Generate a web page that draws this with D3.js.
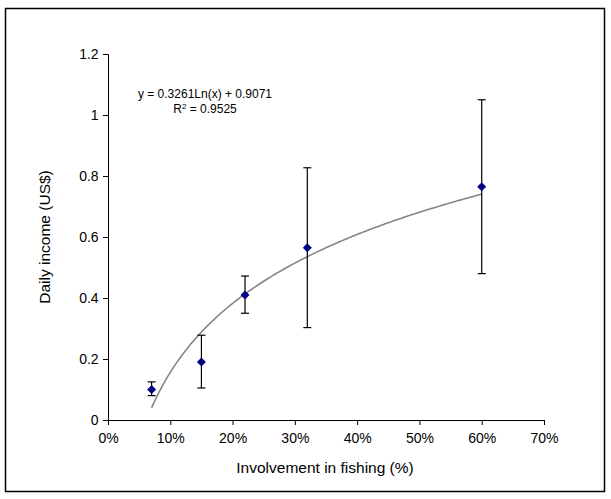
<!DOCTYPE html>
<html>
<head>
<meta charset="utf-8">
<script src="https://cdn.jsdelivr.net/npm/d3@7"></script>
<style>
  body { margin: 0; background: #fff; }
  svg { display: block; font-family: "Liberation Sans", Arial, sans-serif; }
</style>
</head>
<body>
<div id="chart"></div>
<script>
// involvement in fishing (fraction) vs daily income (US$)
const involvement = [0.07, 0.15, 0.22, 0.32, 0.60];
const income = [0.10, 0.19, 0.41, 0.565, 0.765];
const errPlus = [0.025, 0.088, 0.062, 0.262, 0.285];
const errMinus = [0.02, 0.085, 0.06, 0.262, 0.285];

const xTicks = [0, 0.1, 0.2, 0.3, 0.4, 0.5, 0.6, 0.7];
const yTicks = [0, 0.2, 0.4, 0.6, 0.8, 1, 1.2];

// logarithmic trendline, as printed on the chart
const trendCoef = [0.3261, 0.9071];
const trendLabel = ['y = 0.3261Ln(x) + 0.9071', '0.9525'];

const W = 611, H = 499;
const margin = { left: 108, right: 67, top: 54, bottom: 79 };

const svg = d3.select('#chart').append('svg').attr('width', W).attr('height', H);

svg.append('rect')
  .attr('x', 5.5).attr('y', 8.5)
  .attr('width', 599).attr('height', 483)
  .attr('fill', 'none').attr('stroke', '#000').attr('stroke-width', 1.5);

const x = d3.scaleLinear().domain([0, 0.7]).range([margin.left, W - margin.right]);
const y = d3.scaleLinear().domain([0, 1.2]).range([H - margin.bottom, margin.top]);

const xAxis = svg.append('g')
  .attr('transform', `translate(0,${y(0)})`)
  .call(d3.axisBottom(x).tickValues(xTicks).tickFormat(d3.format('.0%')).tickSizeOuter(0).tickSize(5));

const yAxis = svg.append('g')
  .attr('transform', `translate(${x(0)},0)`)
  .call(d3.axisLeft(y).tickValues(yTicks).tickFormat(d => d).tickSizeOuter(0).tickSize(5));

[xAxis, yAxis].forEach(a => {
  a.select('.domain').attr('stroke', '#000');
  a.selectAll('.tick line').attr('stroke', '#000');
  a.selectAll('.tick text').attr('fill', '#000').style('font-size', '14px');
});
xAxis.selectAll('.tick text').attr('dy', '1.1em');
yAxis.selectAll('.tick text').attr('dx', '-0.1em');

svg.append('text')
  .attr('x', (x(0) + x(0.7)) / 2 - 1).attr('y', 473)
  .attr('text-anchor', 'middle').style('font-size', '15.5px')
  .text('Involvement in fishing (%)');

svg.append('text')
  .attr('transform', `translate(50,${(y(0) + y(1.2)) / 2}) rotate(-90)`)
  .attr('text-anchor', 'middle').style('font-size', '15.5px')
  .text('Daily income (US$)');

// trendline over the range of the data
const trendX = d3.range(involvement[0], involvement[involvement.length - 1] + 0.0001, 0.0025);
const line = d3.line()
  .x(d => x(d))
  .y(d => y(trendCoef[0] * Math.log(d) + trendCoef[1]));
svg.append('path')
  .attr('d', line(trendX))
  .attr('fill', 'none').attr('stroke', '#858585').attr('stroke-width', 1.6);

// error bars
const bars = svg.append('g').attr('stroke', '#000').attr('stroke-width', 1.2);
involvement.forEach((v, i) => {
  const cx = x(v);
  const top = y(income[i] + errPlus[i]);
  const bot = y(income[i] - errMinus[i]);
  bars.append('line').attr('x1', cx).attr('x2', cx).attr('y1', top).attr('y2', bot);
  bars.append('line').attr('x1', cx - 4).attr('x2', cx + 4).attr('y1', top).attr('y2', top);
  bars.append('line').attr('x1', cx - 4).attr('x2', cx + 4).attr('y1', bot).attr('y2', bot);
});

// diamond markers
svg.append('g').selectAll('path')
  .data(involvement)
  .join('path')
  .attr('transform', (d, i) => `translate(${x(d)},${y(income[i])})`)
  .attr('d', 'M0,-4.5L4.5,0L0,4.5L-4.5,0Z')
  .attr('fill', '#000080');

// equation label
const eq = svg.append('g').style('font-size', '12px').attr('text-anchor', 'middle');
eq.append('text').attr('x', 205).attr('y', 98).text(trendLabel[0]);
const r2 = eq.append('text').attr('x', 205).attr('y', 113);
r2.append('tspan').text('R');
r2.append('tspan').attr('dy', -4).style('font-size', '8px').text('2');
r2.append('tspan').attr('dy', 4).text(' = ' + trendLabel[1]);
</script>
</body>
</html>
